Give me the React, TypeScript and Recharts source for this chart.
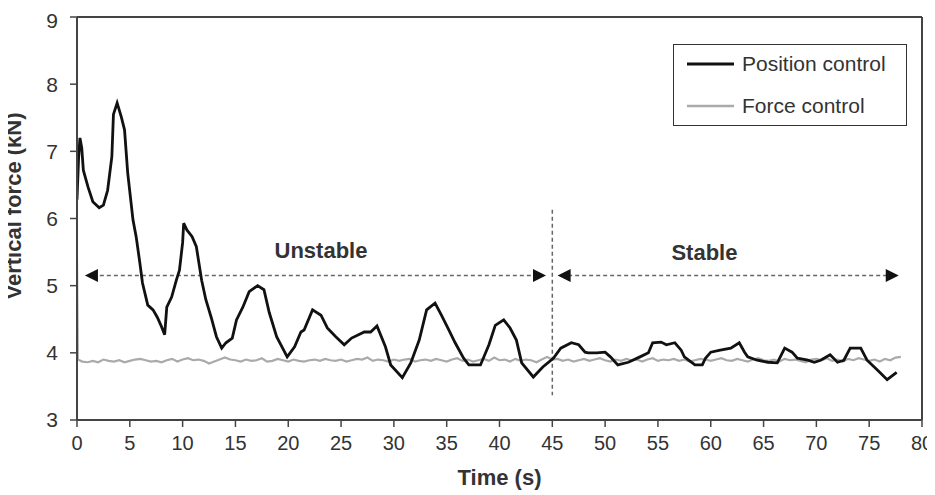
import React from 'react';
import { LineChart, Line, XAxis, YAxis, ReferenceLine, ReferenceDot, Legend } from 'recharts';

const posTime = [0, 0.15, 0.28, 0.45, 0.6, 1.04, 1.5, 2.1, 2.5, 2.9, 3.3, 3.45, 3.8, 4.2, 4.5, 4.8, 5.3, 5.6, 5.95, 6.2, 6.7, 7.2, 7.6, 8.0, 8.3, 8.5, 8.96, 9.4, 9.7, 10.0, 10.1, 10.4, 10.9, 11.3, 11.8, 12.2, 12.7, 13.2, 13.7, 14.1, 14.7, 15.1, 15.7, 16.3, 17.1, 17.7, 18.2, 18.9, 19.9, 20.6, 21.2, 21.5, 22.3, 23.1, 23.7, 24.5, 25.3, 26.0, 27.2, 27.8, 28.4, 29.2, 29.7, 30.8, 31.6, 32.4, 33.1, 33.9, 34.5, 35.2, 35.8, 36.6, 37.1, 38.2, 39.0, 39.6, 40.4, 41.0, 41.6, 42.1, 43.2, 44.1, 45.1, 45.8, 46.8, 47.5, 48.1, 48.4, 49.2, 50.0, 50.5, 51.2, 52.2, 53.3, 54.1, 54.5, 55.3, 55.8, 56.6, 57.2, 57.5, 58.5, 59.2, 59.5, 60.0, 60.9, 61.9, 62.7, 63.2, 63.5, 64.4, 65.4, 66.3, 67.0, 67.7, 68.2, 69.2, 69.8, 70.4, 71.3, 72.0, 72.6, 73.2, 74.2, 74.8, 75.8, 76.7, 77.6];
const posForce = [6.28, 6.9, 7.2, 7.05, 6.72, 6.47, 6.25, 6.16, 6.2, 6.42, 6.92, 7.55, 7.72, 7.51, 7.32, 6.68, 5.98, 5.73, 5.34, 5.04, 4.71, 4.64, 4.53, 4.39, 4.27, 4.68, 4.83, 5.08, 5.23, 5.64, 5.93, 5.83, 5.73, 5.58, 5.08, 4.79, 4.53, 4.24, 4.07, 4.15, 4.22, 4.49, 4.68, 4.91, 5.0, 4.94, 4.6, 4.24, 3.94, 4.09, 4.31, 4.34, 4.64, 4.56, 4.37, 4.24, 4.12, 4.22, 4.31, 4.31, 4.4, 4.09, 3.82, 3.63, 3.85, 4.19, 4.64, 4.74, 4.56, 4.34, 4.15, 3.92, 3.82, 3.82, 4.12, 4.41, 4.49, 4.37, 4.19, 3.85, 3.64, 3.79, 3.92, 4.07, 4.15, 4.12, 4.01, 4.0, 4.0, 4.01, 3.94, 3.82, 3.86, 3.94, 4.0, 4.15, 4.16, 4.12, 4.15, 4.04, 3.94, 3.82, 3.82, 3.92, 4.01, 4.04, 4.07, 4.15, 4.01, 3.94, 3.89, 3.86, 3.85, 4.07, 4.01, 3.92, 3.89, 3.86, 3.89, 3.97, 3.86, 3.89, 4.07, 4.07, 3.89, 3.74, 3.6, 3.71];

const forceTime = [0, 0.08, 0.5, 1, 1.5, 2, 2.5, 3, 3.5, 4, 4.5, 5, 5.5, 6, 6.5, 7, 7.5, 8, 8.5, 9, 9.5, 10, 10.5, 11, 11.5, 12, 12.5, 13, 13.5, 14, 14.5, 15, 15.5, 16, 16.5, 17, 17.5, 18, 18.5, 19, 19.5, 20, 20.5, 21, 21.5, 22, 22.5, 23, 23.5, 24, 24.5, 25, 25.5, 26, 26.5, 27, 27.5, 28, 28.5, 29, 29.5, 30, 30.5, 31, 31.5, 32, 32.5, 33, 33.5, 34, 34.5, 35, 35.5, 36, 36.5, 37, 37.5, 38, 38.5, 39, 39.5, 40, 40.5, 41, 41.5, 42, 42.5, 43, 43.5, 44, 44.5, 45, 45.5, 46, 46.5, 47, 47.5, 48, 48.5, 49, 49.5, 50, 50.5, 51, 51.5, 52, 52.5, 53, 53.5, 54, 54.5, 55, 55.5, 56, 56.5, 57, 57.5, 58, 58.5, 59, 59.5, 60, 60.5, 61, 61.5, 62, 62.5, 63, 63.5, 64, 64.5, 65, 65.5, 66, 66.5, 67, 67.5, 68, 68.5, 69, 69.5, 70, 70.5, 71, 71.5, 72, 72.5, 73, 73.5, 74, 74.5, 75, 75.5, 76, 76.5, 77, 77.5, 78];
const forceForce = [5.42, 3.9,
  3.87, 3.86, 3.88, 3.86, 3.9, 3.88, 3.87, 3.89, 3.86, 3.88,
  3.9, 3.91, 3.89, 3.87, 3.88, 3.86, 3.89, 3.91, 3.87, 3.9,
  3.92, 3.89, 3.9, 3.88, 3.84, 3.87, 3.9, 3.93, 3.9, 3.89,
  3.87, 3.9, 3.88, 3.89, 3.92, 3.87, 3.88, 3.91, 3.89, 3.87,
  3.9, 3.88, 3.87, 3.89, 3.9, 3.88, 3.91, 3.89, 3.88, 3.9,
  3.87, 3.89, 3.91, 3.9, 3.93, 3.88, 3.9, 3.89, 3.87, 3.9,
  3.88, 3.9, 3.91, 3.87, 3.89, 3.9, 3.88, 3.91, 3.89, 3.87,
  3.9, 3.92, 3.88, 3.9, 3.87, 3.89, 3.91, 3.88, 3.93, 3.89,
  3.9, 3.87, 3.91, 3.88, 3.9, 3.89, 3.86, 3.9, 3.94, 3.9,
  3.91, 3.88, 3.9, 3.87, 3.89, 3.91, 3.88, 3.9, 3.92, 3.89,
  3.87, 3.9, 3.88, 3.91, 3.89, 3.9, 3.87, 3.9, 3.92, 3.88,
  3.9, 3.89, 3.91, 3.88, 3.9, 3.87, 3.89, 3.91, 3.9, 3.88,
  3.9, 3.92, 3.89, 3.88, 3.91, 3.89, 3.87, 3.9, 3.92, 3.89,
  3.88, 3.9, 3.87, 3.91, 3.89, 3.9, 3.88, 3.86, 3.9, 3.91,
  3.89, 3.92, 3.88, 3.9, 3.87, 3.91, 3.89, 3.92, 3.9, 3.88,
  3.9, 3.87, 3.91, 3.89, 3.93, 3.94];

const xTicks = [0, 5, 10, 15, 20, 25, 30, 35, 40, 45, 50, 55, 60, 65, 70, 75, 80];
const yTicks = [3, 4, 5, 6, 7, 8, 9];
const seriesNames = ['Position control', 'Force control'];
const phaseLabels = ['Unstable', 'Stable'];

const positionData = posTime.map((t, i) => ({ t, v: posForce[i] }));
const forceData = forceTime.map((t, i) => ({ t, v: forceForce[i] }));

const FONT = '"Liberation Sans", Arial, sans-serif';
const AXIS = '#444';
const TEXT = '#333';
const DASH = '#666';

const leftArrow = (p: any) => (
  <polygon points={`${p.cx},${p.cy} ${p.cx + 13},${p.cy - 6.5} ${p.cx + 13},${p.cy + 6.5}`} fill="#111" />
);
const rightArrow = (p: any) => (
  <polygon points={`${p.cx},${p.cy} ${p.cx - 13},${p.cy - 6.5} ${p.cx - 13},${p.cy + 6.5}`} fill="#111" />
);
const textShape = (label: string) => (p: any) => (
  <text x={p.cx} y={p.cy} textAnchor="middle" fontFamily={FONT} fontSize={22} fontWeight="bold" fill={TEXT}>
    {label}
  </text>
);

const renderLegend = (props: any) => {
  const payload = [...(props.payload || [])].sort(
    (a: any, b: any) => seriesNames.indexOf(a.value) - seriesNames.indexOf(b.value)
  );
  return (
    <div style={{ width: 234, height: 82, border: '1.5px solid #333', boxSizing: 'border-box', position: 'relative', background: '#fff', fontFamily: FONT }}>
      {payload.map((e: any, i: number) => (
        <div key={i} style={{ position: 'absolute', left: 0, top: i * 42, height: 38, display: 'flex', alignItems: 'center' }}>
          <svg width={60} height={8} style={{ display: 'block' }}>
            <line x1={13} x2={60} y1={4} y2={4} stroke={e.color} strokeWidth={i === 0 ? 3 : 2.5} />
          </svg>
          <span style={{ marginLeft: 8, fontSize: 21, color: TEXT, whiteSpace: 'nowrap' }}>{e.value}</span>
        </div>
      ))}
    </div>
  );
};

const xLabel = (p: any) => {
  const vb = p.viewBox;
  return (
    <text x={vb.x + vb.width / 2} y={vb.y + 65} textAnchor="middle" fontFamily={FONT} fontSize={22} fontWeight="bold" fill={TEXT}>
      Time (s)
    </text>
  );
};
const yLabel = () => {
  const x = 12.5;
  const y = 198;
  return (
    <text x={x} y={y} transform={`rotate(-90, ${x}, ${y})`} textAnchor="middle" fontFamily={FONT} fontSize={22} fontWeight="bold" fill={TEXT}>
      Vertical force (kN)
    </text>
  );
};

export default function App() {
  return (
    <div style={{ width: 927, height: 487 }}>
      <LineChart width={927} height={487} margin={{ top: 9, right: 13, left: 0, bottom: 0 }} style={{ fontFamily: FONT }}>
        <XAxis
          dataKey="t"
          type="number"
          domain={[0, 80]}
          ticks={xTicks}
          allowDataOverflow
          height={75}
          stroke={AXIS}
          strokeWidth={2}
          tickSize={7}
          tickMargin={9}
          tick={{ fill: TEXT, fontSize: 20, fontFamily: FONT }}
          tickLine={{ stroke: AXIS, strokeWidth: 1.5 }}
          label={xLabel}
        />
        <YAxis
          type="number"
          domain={[3, 9]}
          ticks={yTicks}
          allowDataOverflow
          width={69}
          stroke={AXIS}
          strokeWidth={2}
          tickSize={7}
          tickMargin={12}
          tick={{ fill: TEXT, fontSize: 21, fontFamily: FONT }}
          tickLine={{ stroke: AXIS, strokeWidth: 1.5 }}
          label={yLabel}
        />
        <ReferenceLine y={9} stroke={AXIS} strokeWidth={2} />
        <ReferenceLine x={80} stroke={AXIS} strokeWidth={2} />
        <ReferenceLine segment={[{ x: 45, y: 6.13 }, { x: 45, y: 3.37 }]} stroke={DASH} strokeWidth={1.5} strokeDasharray="4 3" />
        <ReferenceLine segment={[{ x: 1.5, y: 5.15 }, { x: 43.5, y: 5.15 }]} stroke={DASH} strokeWidth={1.5} strokeDasharray="4 3" />
        <ReferenceLine segment={[{ x: 46.5, y: 5.15 }, { x: 77, y: 5.15 }]} stroke={DASH} strokeWidth={1.5} strokeDasharray="4 3" />
        <Line data={forceData} dataKey="v" name={seriesNames[1]} type="linear" dot={false} stroke="#aaaaaa" strokeWidth={2.2} isAnimationActive={false} />
        <Line data={positionData} dataKey="v" name={seriesNames[0]} type="linear" dot={false} stroke="#111111" strokeWidth={2.8} isAnimationActive={false} />
        <ReferenceDot x={0.75} y={5.15} shape={leftArrow} />
        <ReferenceDot x={44.4} y={5.15} shape={rightArrow} />
        <ReferenceDot x={45.5} y={5.15} shape={leftArrow} />
        <ReferenceDot x={77.8} y={5.15} shape={rightArrow} />
        <ReferenceDot x={23.1} y={5.41} shape={textShape(phaseLabels[0])} />
        <ReferenceDot x={59.4} y={5.38} shape={textShape(phaseLabels[1])} />
        <Legend
          layout="vertical"
          align="center"
          verticalAlign="middle"
          content={renderLegend}
          wrapperStyle={{ top: 36, left: 665, width: 234, height: 82 }}
        />
      </LineChart>
    </div>
  );
}
